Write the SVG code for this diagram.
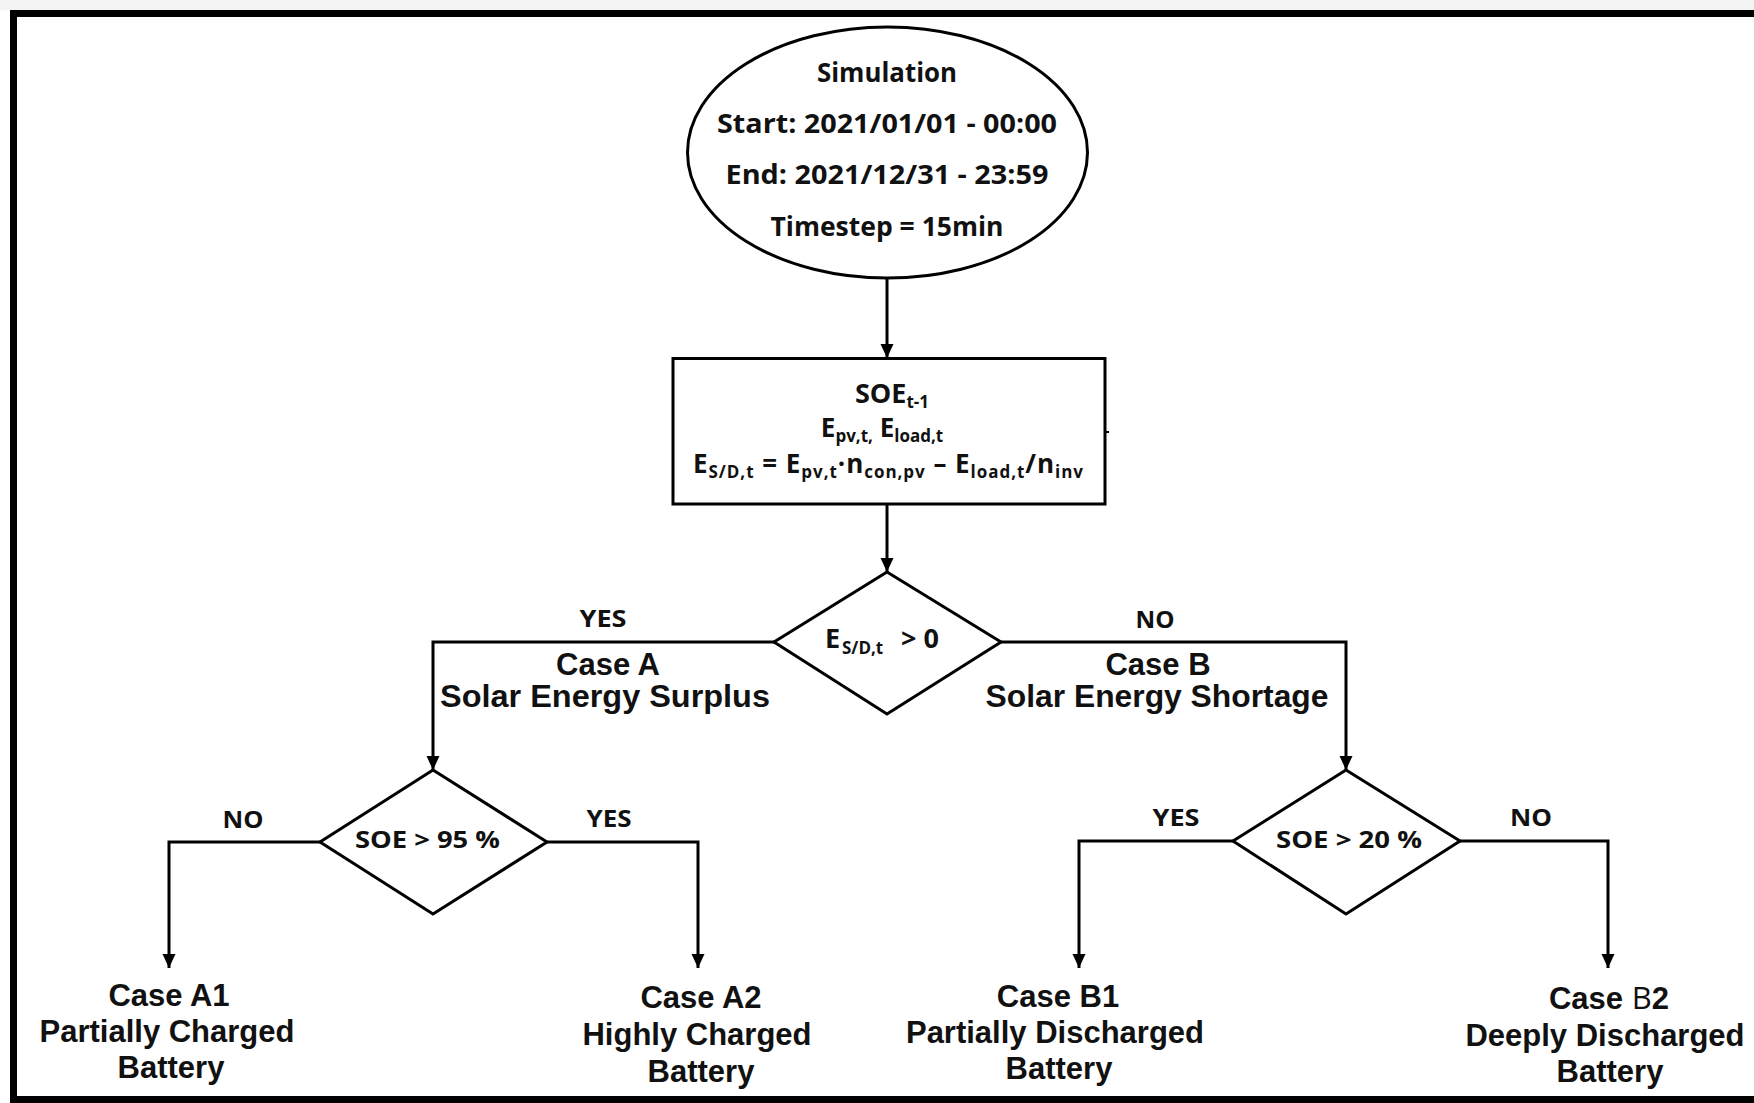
<svg xmlns="http://www.w3.org/2000/svg" width="1754" height="1103" viewBox="0 0 1754 1103">
<defs>
<marker id="arr" markerUnits="userSpaceOnUse" markerWidth="14" markerHeight="14" refX="14" refY="7" orient="auto">
<path d="M0,0.5 L14,7 L0,13.5 Z" fill="#000"/>
</marker>
<style>
.shape{fill:#fff;stroke:#000;stroke-width:3}
.conn{fill:none;stroke:#000;stroke-width:3;marker-end:url(#arr)}
.cal{font-family:"Open Sans","Noto Sans",sans-serif;font-weight:700;fill:#111}
.ari{font-family:"Liberation Sans",Arial,sans-serif;font-weight:700;font-size:31px;fill:#111;text-anchor:middle}
.lbl{font-size:24px;text-anchor:middle}
.sub{font-size:17px}
</style>
</defs>
<rect x="0" y="0" width="1754" height="1103" fill="#fff"/>
<rect x="0" y="0" width="1754" height="10" fill="#f3f3f3"/>
<rect x="13.5" y="13.5" width="1800" height="1086" fill="none" stroke="#000" stroke-width="7"/>

<g id="connectors">
<path class="conn" d="M887,279 V358"/>
<path class="conn" d="M887,504 V572"/>
<path class="conn" d="M774,642 H433 V770"/>
<path class="conn" d="M1001,642 H1346 V770"/>
<path class="conn" d="M320,842 H169 V968"/>
<path class="conn" d="M547,842 H698 V968"/>
<path class="conn" d="M1233,841 H1079 V968"/>
<path class="conn" d="M1460,841 H1608 V968"/>
<line x1="1105" y1="432" x2="1109" y2="432" stroke="#000" stroke-width="2"/>
<text class="cal lbl" x="603" y="627" textLength="47" lengthAdjust="spacingAndGlyphs">YES</text>
<text class="cal lbl" x="1155" y="628" textLength="39" lengthAdjust="spacingAndGlyphs">NO</text>
<text class="cal lbl" x="243" y="828" textLength="41" lengthAdjust="spacingAndGlyphs">NO</text>
<text class="cal lbl" x="609" y="827" textLength="45" lengthAdjust="spacingAndGlyphs">YES</text>
<text class="cal lbl" x="1176" y="826" textLength="47" lengthAdjust="spacingAndGlyphs">YES</text>
<text class="cal lbl" x="1531" y="826" textLength="42" lengthAdjust="spacingAndGlyphs">NO</text>
<text class="ari" x="608" y="675">Case A</text>
<text class="ari" x="605" y="707" textLength="330" lengthAdjust="spacingAndGlyphs">Solar Energy Surplus</text>
<text class="ari" x="1158" y="675">Case B</text>
<text class="ari" x="1157" y="707" textLength="343" lengthAdjust="spacingAndGlyphs">Solar Energy Shortage</text>
</g>

<g id="start">
<ellipse class="shape" cx="887.5" cy="152.5" rx="200" ry="125.5"/>
<text class="cal" font-size="26" text-anchor="middle" x="887" y="82" textLength="140" lengthAdjust="spacingAndGlyphs">Simulation</text>
<text class="cal" font-size="26" text-anchor="middle" x="887" y="133" textLength="340" lengthAdjust="spacingAndGlyphs">Start: 2021/01/01 - 00:00</text>
<text class="cal" font-size="26" text-anchor="middle" x="887" y="184" textLength="323" lengthAdjust="spacingAndGlyphs">End: 2021/12/31 - 23:59</text>
<text class="cal" font-size="26" text-anchor="middle" x="887" y="236" textLength="233" lengthAdjust="spacingAndGlyphs">Timestep = 15min</text>
</g>

<g id="compute">
<rect class="shape" x="673" y="358.5" width="432" height="145.5"/>
<text class="cal" font-size="27" text-anchor="middle" x="892" y="403">SOE<tspan class="sub" dy="5">t-1</tspan></text>
<text class="cal" font-size="26" text-anchor="middle" x="882" y="437">E<tspan class="sub" dy="5">pv,t,</tspan><tspan dy="-5"> E</tspan><tspan class="sub" dy="5">load,t</tspan></text>
<text class="cal" font-size="26" text-anchor="middle" x="888" y="473" textLength="390" lengthAdjust="spacing">E<tspan class="sub" dy="5">S/D,t</tspan><tspan dy="-5"> = E</tspan><tspan class="sub" dy="5">pv,t</tspan><tspan dy="-5">·n</tspan><tspan class="sub" dy="5">con,pv</tspan><tspan dy="-5"> –  E</tspan><tspan class="sub" dy="5">load,t</tspan><tspan dy="-5">/n</tspan><tspan class="sub" dy="5">inv</tspan></text>
</g>

<g id="decision-main">
<polygon class="shape" points="887,572 1001,642 887,714 774,642"/>
<text class="cal" font-size="27">
<tspan x="825" y="648">E</tspan><tspan font-size="17" x="842" y="654">S/D,t</tspan><tspan x="901" y="648">&gt; 0</tspan>
</text>
</g>

<g id="decision-a">
<polygon class="shape" points="433,770 547,842 433,914 320,842"/>
<text class="cal lbl" x="427.5" y="848" textLength="145" lengthAdjust="spacingAndGlyphs">SOE &gt; 95 %</text>
</g>

<g id="decision-b">
<polygon class="shape" points="1346,770 1460,841 1346,914 1233,841"/>
<text class="cal lbl" x="1349" y="848" textLength="146" lengthAdjust="spacingAndGlyphs">SOE &gt; 20 %</text>
</g>

<g id="case-a1">
<text class="ari" x="169" y="1006">Case A1</text>
<text class="ari" x="167" y="1042">Partially Charged</text>
<text class="ari" x="171" y="1078">Battery</text>
</g>

<g id="case-a2">
<text class="ari" x="701" y="1008">Case A2</text>
<text class="ari" x="697" y="1045">Highly Charged</text>
<text class="ari" x="701" y="1082">Battery</text>
</g>

<g id="case-b1">
<text class="ari" x="1058" y="1007">Case B1</text>
<text class="ari" x="1055" y="1043">Partially Discharged</text>
<text class="ari" x="1059" y="1079">Battery</text>
</g>

<g id="case-b2">
<text class="ari" x="1609" y="1009">Case <tspan font-family="'Open Sans',sans-serif" font-weight="400">B</tspan>2</text>
<text class="ari" x="1605" y="1046">Deeply Discharged</text>
<text class="ari" x="1610" y="1082">Battery</text>
</g>
</svg>
